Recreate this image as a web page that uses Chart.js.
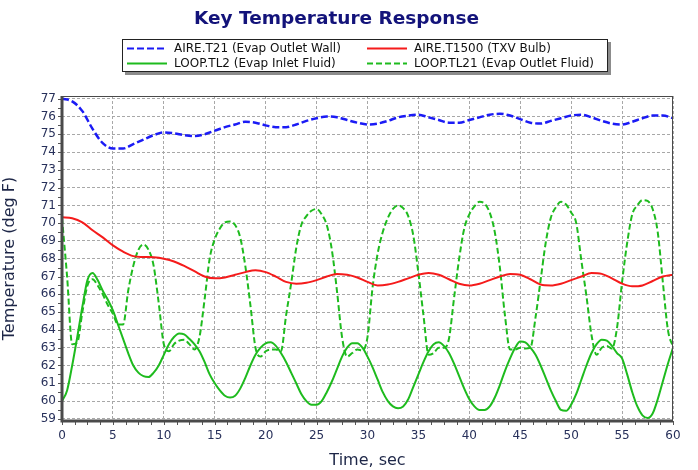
<!DOCTYPE html>
<html>
<head>
<meta charset="utf-8">
<script src="https://cdn.jsdelivr.net/npm/chart.js@4.4.1/dist/chart.umd.min.js"></script>
<style>
  html, body { margin: 0; padding: 0; background: #fff; }
</style>
</head>
<body>
<canvas id="myChart" width="698" height="470"></canvas>
<script>
// time bases (sec)
const timeSec = [0,1,2,3,4,5,6,7,8,9,10,11,12,13,14,15,16,17,18,19,20,21,22,23,24,25,26,27,28,29,30,
  31,32,33,34,35,36,37,38,39,40,41,42,43,44,45,46,47,48,49,50,51,52,53,54,55,56,57,58,59,60];
const timeHalf = [0,0.5,1,1.5,2,2.5,3,3.5,4,4.5,5,5.5,6,6.5,7,7.5,8,8.5,9,9.5,
  10,10.5,11,11.5,12,12.5,13,13.5,14,14.5,15,15.5,16,16.5,17,17.5,18,18.5,19,19.5,
  20,20.5,21,21.5,22,22.5,23,23.5,24,24.5,25,25.5,26,26.5,27,27.5,28,28.5,29,29.5,
  30,30.5,31,31.5,32,32.5,33,33.5,34,34.5,35,35.5,36,36.5,37,37.5,38,38.5,39,39.5,
  40,40.5,41,41.5,42,42.5,43,43.5,44,44.5,45,45.5,46,46.5,47,47.5,48,48.5,49,49.5,
  50,50.5,51,51.5,52,52.5,53,53.5,54,54.5,55,55.5,56,56.5,57,57.5,58,58.5,59,59.5,60];

// AIRE.T21 (Evap Outlet Wall), 1 s
const aireT21 = [77.0,76.85,76.3,75.3,74.5,74.2,74.2,74.45,74.7,74.95,
  75.1,75.05,74.95,74.9,75.0,75.2,75.4,75.55,75.7,75.65,
  75.5,75.4,75.4,75.55,75.75,75.9,76.0,75.95,75.8,75.65,
  75.55,75.6,75.75,75.95,76.05,76.1,75.95,75.8,75.65,75.65,
  75.8,75.95,76.1,76.15,76.05,75.85,75.65,75.6,75.75,75.9,
  76.05,76.1,75.95,75.75,75.6,75.55,75.7,75.9,76.05,76.05,75.9];

// AIRE.T1500 (TXV Bulb), 1 s
const aireT1500 = [70.33,70.28,70.05,69.6,69.2,68.75,68.4,68.15,68.1,68.08,
  68.0,67.85,67.6,67.3,67.0,66.9,66.95,67.1,67.25,67.35,
  67.25,67.0,66.7,66.6,66.65,66.8,67.0,67.15,67.1,66.95,
  66.7,66.5,66.55,66.7,66.9,67.1,67.2,67.1,66.85,66.6,
  66.5,66.6,66.8,67.0,67.15,67.1,66.85,66.55,66.5,66.6,
  66.8,67.0,67.2,67.15,66.9,66.6,66.45,66.5,66.75,67.0,67.1];

// LOOP.TL2 (Evap Inlet Fluid), 0.5 s
const loopTL2 = [60.0,60.6,62.0,63.6,65.3,66.8,67.2,66.8,66.2,65.7,
  65.1,64.3,63.5,62.7,62.0,61.6,61.4,61.35,61.6,62.0,
  62.6,63.2,63.6,63.8,63.75,63.5,63.2,62.8,62.2,61.5,
  61.0,60.6,60.3,60.2,60.3,60.7,61.3,62.0,62.6,63.0,
  63.25,63.3,63.1,62.7,62.2,61.6,61.0,60.4,60.0,59.8,
  59.8,60.0,60.5,61.1,61.8,62.5,63.0,63.25,63.25,63.0,
  62.5,61.9,61.2,60.5,60.0,59.7,59.6,59.7,60.1,60.8,
  61.5,62.2,62.8,63.2,63.3,63.1,62.7,62.1,61.4,60.7,
  60.1,59.7,59.5,59.5,59.7,60.2,60.9,61.7,62.4,63.0,
  63.35,63.3,63.0,62.6,62.0,61.3,60.6,60.0,59.5,59.45,
  59.8,60.4,61.2,62.0,62.7,63.2,63.45,63.4,63.1,62.7,
  62.4,61.5,60.5,59.7,59.2,59.05,59.3,60.1,61.1,62.1,63.0];

// LOOP.TL21 (Evap Outlet Fluid), 0.5 s
const loopTL21 = [70.3,67.0,63.2,63.3,65.0,66.5,66.85,66.5,66.0,65.4,
  64.9,64.3,64.3,66.2,67.6,68.5,68.8,68.5,67.6,65.5,
  63.2,62.8,63.2,63.4,63.45,63.2,62.9,63.6,65.7,68.0,
  69.1,69.7,70.05,70.1,69.9,69.2,67.6,65.4,63.0,62.5,
  62.8,62.9,62.9,62.8,64.8,66.6,68.6,69.9,70.4,70.7,
  70.8,70.5,69.9,68.5,66.2,63.6,62.5,62.7,62.9,62.85,
  63.6,66.4,68.3,69.5,70.3,70.8,71.0,70.85,70.4,69.3,
  67.2,64.8,62.6,62.7,63.0,63.0,63.5,65.8,68.0,69.7,
  70.5,70.95,71.2,71.1,70.6,69.5,67.5,64.8,62.9,62.9,
  63.0,62.95,63.0,64.7,66.8,68.9,70.3,70.9,71.2,71.05,
  70.6,70.0,67.9,65.9,63.7,62.6,63.0,63.1,62.95,64.1,
  66.7,68.9,70.5,71.0,71.3,71.25,70.8,69.5,66.7,64.0,63.05];

const yTicks = [59,60,61,62,63,64,65,66,67,68,69,70,71,72,73,74,75,76,77];

const pts = (xs, ys) => xs.map((x, i) => ({ x: x, y: ys[i] }));

const tickColor = '#27305a';
const axisFont = { family: 'DejaVu Sans', size: 12 };

const extras = {
  id: 'extras',
  afterDraw(chart) {
    const { ctx, chartArea: a, scales } = chart;
    ctx.save();
    // minor ticks
    ctx.strokeStyle = '#555';
    ctx.lineWidth = 1;
    for (let v = 59; v <= 77; v += 0.5) {
      const y = Math.round(scales.y.getPixelForValue(v)) + 0.5;
      ctx.beginPath(); ctx.moveTo(a.left - 4, y); ctx.lineTo(a.left, y); ctx.stroke();
    }
    for (let v = 0; v <= 60; v += 1.25) {
      const x = Math.round(scales.x.getPixelForValue(v)) + 0.5;
      ctx.beginPath(); ctx.moveTo(x, a.bottom); ctx.lineTo(x, a.bottom + 4); ctx.stroke();
    }
    // plot frame
    ctx.strokeStyle = '#4a4a4a';
    ctx.lineWidth = 1;
    ctx.strokeRect(a.left + 0.5, a.top + 0.5, a.width - 1, a.height - 1);
    ctx.lineWidth = 3;
    ctx.beginPath();
    ctx.moveTo(a.left, a.top);
    ctx.lineTo(a.left, a.bottom);
    ctx.lineTo(a.right, a.bottom);
    ctx.stroke();

    // legend box
    const bx = 122, by = 39, bw = 486, bh = 33;
    ctx.fillStyle = '#8c8c8c';
    ctx.fillRect(bx + 3, by + 3, bw, bh);
    ctx.fillStyle = '#fff';
    ctx.fillRect(bx, by, bw, bh);
    ctx.strokeStyle = '#222';
    ctx.lineWidth = 1;
    ctx.strokeRect(bx + 0.5, by + 0.5, bw - 1, bh - 1);
    const slots = [[127, 48], [367, 48], [127, 63], [367, 63]];
    ctx.font = '12px "DejaVu Sans"';
    ctx.textBaseline = 'middle';
    chart.data.datasets.forEach((ds, i) => {
      const [lx, ly] = slots[i];
      ctx.strokeStyle = ds.borderColor;
      ctx.lineWidth = 2;
      ctx.setLineDash(ds.borderDash || []);
      ctx.beginPath(); ctx.moveTo(lx, ly + 0.5); ctx.lineTo(lx + 40, ly + 0.5); ctx.stroke();
      ctx.setLineDash([]);
      ctx.fillStyle = '#111';
      ctx.fillText(ds.label, lx + 47, ly + 1);
    });
    ctx.restore();
  }
};

new Chart(document.getElementById('myChart'), {
  type: 'line',
  data: {
    datasets: [{
      label: 'AIRE.T21 (Evap Outlet Wall)',
      data: pts(timeSec, aireT21),
      borderColor: '#1b1bf5',
      borderWidth: 2.5,
      borderDash: [7, 3]
    }, {
      label: 'AIRE.T1500 (TXV Bulb)',
      data: pts(timeSec, aireT1500),
      borderColor: '#f51b1b',
      borderWidth: 2
    }, {
      label: 'LOOP.TL2 (Evap Inlet Fluid)',
      data: pts(timeHalf, loopTL2),
      borderColor: '#1ebb1e',
      borderWidth: 2
    }, {
      label: 'LOOP.TL21 (Evap Outlet Fluid)',
      data: pts(timeHalf, loopTL21),
      borderColor: '#1ebb1e',
      borderWidth: 2,
      borderDash: [6, 3]
    }]
  },
  options: {
    responsive: false,
    animation: false,
    layout: { padding: { left: 0, right: 25, top: 0, bottom: 0 } },
    elements: {
      point: { radius: 0 },
      line: { tension: 0.4, cubicInterpolationMode: 'monotone', fill: false }
    },
    plugins: {
      legend: { display: false },
      tooltip: { enabled: false },
      title: {
        display: true,
        text: 'Key Temperature Response',
        color: '#13137a',
        font: { family: 'DejaVu Sans', size: 18.5, weight: 'bold' },
        padding: { top: 8, bottom: 65.8 }
      }
    },
    scales: {
      x: {
        type: 'linear',
        min: 0,
        max: 60,
        ticks: { stepSize: 5, color: tickColor, font: axisFont, padding: 8 },
        grid: { color: '#a8a8a8', drawTicks: false },
        border: { display: false, dash: [3, 2] },
        title: { display: true, text: 'Time, sec', color: '#1d2647',
                 font: { family: 'DejaVu Sans', size: 16 }, padding: { top: 2, bottom: 0 } },
        afterFit: s => { s.height = 49; }
      },
      y: {
        min: 58.88,
        max: 77.15,
        afterBuildTicks: s => { s.ticks = yTicks.map(v => ({ value: v })); },
        ticks: { color: tickColor, font: axisFont, padding: 6 },
        grid: { color: '#a8a8a8', drawTicks: false },
        border: { display: false, dash: [3, 2] },
        title: { display: true, text: 'Temperature (deg F)', color: '#1d2647',
                 font: { family: 'DejaVu Sans', size: 16 }, padding: { top: 0, bottom: 2 } },
        afterFit: s => { s.width = 62; }
      }
    }
  },
  plugins: [extras]
});
</script>
</body>
</html>
